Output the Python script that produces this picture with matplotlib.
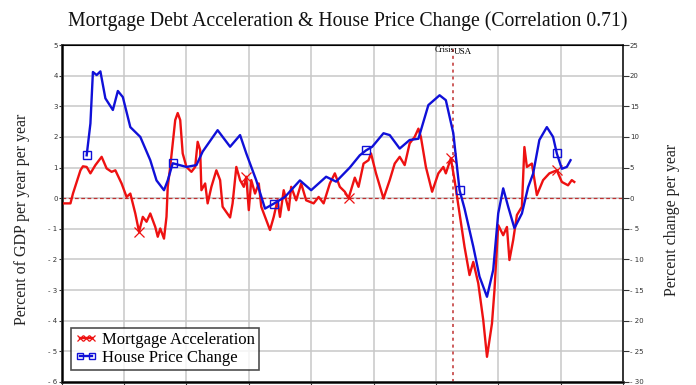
import numpy as np
import matplotlib.pyplot as plt
from matplotlib.legend_handler import HandlerLine2D

# Mortgage acceleration (percent of GDP per year per year), left axis
mort_year = [1975.0, 1975.7, 1975.9, 1976.5, 1976.7, 1977.0, 1977.3, 1977.7, 1978.2, 1978.6,
             1979.0, 1979.3, 1979.8, 1980.2, 1980.5, 1980.9, 1981.2, 1981.5, 1981.8, 1982.1,
             1982.5, 1982.7, 1982.9, 1983.2, 1983.4, 1983.5, 1983.7, 1984.1, 1984.3, 1984.5,
             1984.7, 1985.0, 1985.4, 1985.7, 1985.9, 1986.1, 1986.2, 1986.5, 1986.7, 1987.0,
             1987.4, 1987.7, 1987.9, 1988.5, 1988.7, 1989.0, 1989.3, 1989.6, 1989.8, 1990.0,
             1990.2, 1990.5, 1990.8, 1991.0, 1991.7, 1992.0, 1992.3, 1992.5, 1992.8, 1993.2,
             1993.4, 1993.8, 1994.2, 1994.6, 1995.2, 1995.6, 1996.0, 1996.5, 1996.9, 1997.3,
             1997.7, 1998.0, 1998.5, 1998.8, 1999.2, 1999.6, 1999.8, 2000.2, 2000.8, 2001.3,
             2001.7, 2002.1, 2002.5, 2002.9, 2003.3, 2003.6, 2003.8, 2004.2, 2004.7, 2005.2,
             2005.6, 2005.8, 2006.2, 2006.5, 2006.9, 2007.3, 2007.7, 2008.0, 2008.4, 2008.8,
             2009.1, 2009.5, 2009.7, 2010.0, 2010.4, 2010.7, 2010.9, 2011.2, 2011.5, 2011.9,
             2012.1, 2012.3, 2012.7, 2013.1, 2013.6, 2014.1, 2014.7, 2015.1, 2015.6, 2015.9,
             2016.1]
mort_acc = [-0.17, -0.17, 0.15, 0.91, 1.04, 1.02, 0.81, 1.08, 1.35, 0.97,
            0.86, 0.91, 0.48, 0.04, 0.15, -0.50, -1.10, -0.61, -0.77, -0.50,
            -0.94, -1.26, -0.99, -1.32, -0.61, 0.37, 1.02, 2.55, 2.78, 2.55,
            1.46, 1.02, 0.86, 1.02, 1.84, 1.57, 0.26, 0.48, -0.17, 0.37,
            0.91, 0.59, -0.28, -0.63, -0.17, 1.02, 0.59, 0.37, 0.70, -0.39,
            0.59, 0.15, 0.48, -0.28, -1.04, -0.61, -0.07, -0.61, 0.26, -0.39,
            0.37, -0.07, 0.48, -0.07, -0.17, 0.04, -0.17, 0.48, 0.81, 0.37,
            0.21, 0.00, 0.67, 0.37, 1.13, 1.24, 1.46, 0.81, -0.01, 0.59,
            1.13, 1.35, 1.08, 1.79, 2.00, 2.27, 2.00, 1.02, 0.21, 0.81,
            1.02, 0.81, 1.30, 0.59, -0.50, -1.59, -2.51, -2.08, -2.78, -3.98,
            -5.18, -4.09, -3.00, -0.88, -1.21, -0.94, -2.02, -1.37, -0.55, -0.28,
            1.67, 1.02, 1.13, 0.10, 0.59, 0.81, 0.91, 0.53, 0.42, 0.59,
            0.53]

# House price change (percent per year), right axis
house_year = [1977.0, 1977.3, 1977.5, 1977.8, 1978.1, 1978.5, 1979.1, 1979.5, 1979.9, 1980.5,
              1981.3, 1982.1, 1982.6, 1983.2, 1983.5, 1983.9, 1985.0, 1985.8, 1986.3, 1987.5,
              1988.5, 1989.3, 1989.8, 1990.6, 1991.3, 1992.0, 1992.9, 1994.1, 1995.0, 1996.2,
              1997.0, 1998.1, 1998.9, 1999.4, 1999.9, 2000.8, 2001.3, 2002.1, 2002.9, 2003.6,
              2004.4, 2005.3, 2005.8, 2006.4, 2006.9, 2007.3, 2008.0, 2008.5, 2009.1, 2009.6,
              2010.0, 2010.4, 2010.8, 2011.3, 2011.9, 2012.4, 2012.8, 2013.3, 2013.9, 2014.4,
              2014.7, 2015.1, 2015.5, 2015.8]
house_chg = [7.0, 12.2, 20.6, 20.1, 20.7, 16.3, 14.4, 17.5, 16.5, 11.6,
             10.0, 6.2, 2.9, 1.3, 2.9, 5.7, 5.1, 5.4, 7.6, 11.1,
             8.4, 10.3, 7.3, 2.9, -1.7, -0.9, 0.2, 2.9, 1.3, 3.5,
             2.7, 5.0, 7.0, 7.8, 8.4, 10.6, 10.3, 8.1, 9.5, 9.7,
             15.2, 16.8, 16.0, 10.6, 1.3, -1.7, -7.9, -12.8, -16.1, -11.7,
             -2.5, 1.6, -1.4, -4.9, -2.5, 1.8, 4.0, 9.5, 11.6, 10.0,
             7.3, 4.8, 5.1, 6.2]

mort_marks = [1981.2, 1989.8, 1998.0, 2006.2, 2014.7]
house_marks = [1977.0, 1984.4, 1992.0, 1999.4, 2006.9, 2014.6]
crisis_year = 2006.4

left_ticks = np.arange(-6, 6)
right_ticks = np.arange(-30, 30, 5)
year_ticks = np.arange(1975, 2021, 5)

red = '#ee1111'
blue = '#1010d8'
serif = 'Liberation Serif'

def fmt(v):
    return '- %d' % -v if v < 0 else '%d' % v

fig = plt.figure(figsize=(6.96, 3.85), dpi=100)
ax = fig.add_axes([0.0887, 0.008, 0.8063, 0.875])
ax2 = ax.twinx()

ax.set_xlim(1975, 2020)
ax.set_ylim(-6, 5)
ax2.set_ylim(-30, 25)

ax.set_yticks(left_ticks)
ax.set_yticklabels([fmt(v) for v in left_ticks], fontsize=5, family='DejaVu Sans')
ax2.set_yticks(right_ticks)
ax2.set_yticklabels([fmt(v) for v in right_ticks], fontsize=5, family='DejaVu Sans')
ax.set_xticks(year_ticks)
ax.set_xticklabels([str(y) for y in year_ticks], fontsize=5, family='DejaVu Sans')
ax.tick_params(axis='both', length=2, width=0.8, pad=1, colors='#333333')
ax2.tick_params(axis='y', length=4, width=0.8, pad=1, colors='#333333')

ax.grid(True, color='#c8c8c8', lw=1.1)
ax.set_axisbelow(True)
ax.axhline(0, color='#c03030', lw=0.9, ls=(0, (3, 2)), zorder=2)
ax.axvline(crisis_year, color='#c03030', lw=1.1, ls=(0, (2, 2.5)), zorder=2)
ax.text(crisis_year + 0.1, 4.85, 'Crisis', ha='right', va='center', fontsize=6, family=serif)
ax.text(crisis_year, 4.77, 'USA', ha='left', va='center', fontsize=6.5, family=serif)

mi = [int(np.argmin(np.abs(np.array(mort_year) - y))) for y in mort_marks]
hi = [int(np.argmin(np.abs(np.array(house_year) - y))) for y in house_marks]

l1, = ax.plot(mort_year, mort_acc, color=red, lw=1.7, marker='x', ms=6.5, mew=0.9,
              markevery=mi, zorder=4, label='Mortgage Acceleration')
l2, = ax2.plot(house_year, house_chg, color=blue, lw=1.7, marker='s', ms=6, mew=1.0,
               mfc='none', markevery=hi, zorder=4, label='House Price Change')

for sp in ax.spines.values():
    sp.set_color('#333333')
ax.spines['left'].set_linewidth(2.0)
ax.spines['bottom'].set_linewidth(2.0)
ax.spines['top'].set_linewidth(1.2)
ax.spines['right'].set_linewidth(1.2)
ax2.spines['right'].set_linewidth(1.2)
ax2.spines['right'].set_color('#333333')

leg = ax.legend([l1, l2], ['Mortgage Acceleration', 'House Price Change'],
                loc='lower left', bbox_to_anchor=(0.013, 0.03),
                prop={'family': serif, 'size': 12}, frameon=True, fancybox=False,
                handlelength=1.3, handletextpad=0.3, borderpad=0.25, labelspacing=0.1,
                borderaxespad=0.1,
                handler_map={l1: HandlerLine2D(numpoints=3), l2: HandlerLine2D(numpoints=2)})
leg.get_frame().set_edgecolor('#222222')
leg.get_frame().set_linewidth(1.2)
leg.set_zorder(10)
for h in leg.legend_handles:
    h.set_markersize(5)

fig.text(0.5, 0.945, 'Mortgage Debt Acceleration & House Price Change (Correlation 0.71)',
         ha='center', va='center', fontsize=14.2, family=serif, color='#111111')
fig.text(0.032, 0.43, 'Percent of GDP per year per year', rotation=90, ha='center',
         va='center', fontsize=11.5, family=serif, color='#222222')
fig.text(0.966, 0.43, 'Percent change per year', rotation=90, ha='center',
         va='center', fontsize=11.5, family=serif, color='#222222')

plt.savefig('out.png', dpi=100)
